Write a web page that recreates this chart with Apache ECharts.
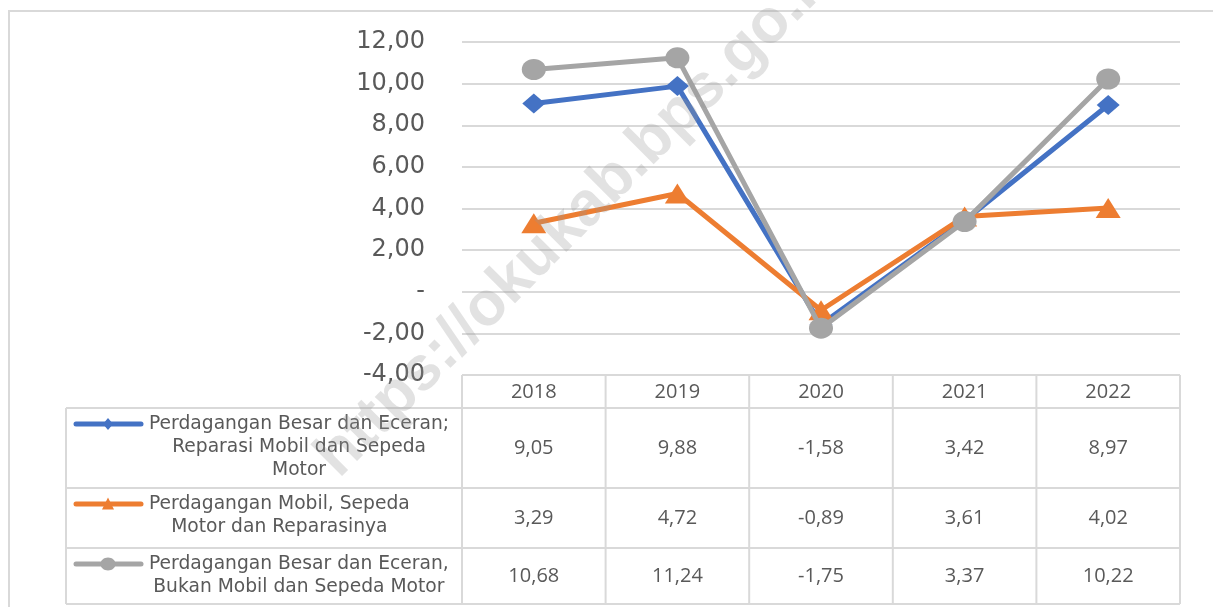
<!DOCTYPE html>
<html>
<head>
<meta charset="utf-8">
<script src="https://cdn.jsdelivr.net/npm/echarts@6/dist/echarts.min.js"></script>
<style>
  html, body { margin: 0; padding: 0; background: #fff; }
  #chart { width: 1213px; height: 607px; }
</style>
</head>
<body>
<div id="chart"></div>
<script>
// data
var years = ['2018', '2019', '2020', '2021', '2022'];
var besarEceran = [9.05, 9.88, -1.58, 3.42, 8.97];
var mobilMotor = [3.29, 4.72, -0.89, 3.61, 4.02];
var bukanMobil = [10.68, 11.24, -1.75, 3.37, 10.22];
var seriesNames = [
  'Perdagangan Besar dan Eceran; Reparasi Mobil dan Sepeda Motor',
  'Perdagangan Mobil, Sepeda Motor dan Reparasinya',
  'Perdagangan Besar dan Eceran, Bukan Mobil dan Sepeda Motor'
];
var legendLines = [
  ['Perdagangan Besar dan Eceran;', 'Reparasi Mobil dan Sepeda', 'Motor'],
  ['Perdagangan Mobil, Sepeda', 'Motor dan Reparasinya'],
  ['Perdagangan Besar dan Eceran,', 'Bukan Mobil dan Sepeda Motor']
];
var yMin = -4, yMax = 12, yStep = 2;

var colors = ['#4472C4', '#ED7D31', '#A5A5A5'];
var symbols = ['diamond', 'triangle', 'circle'];
var symbolSizes = [[23, 20], [25, 20], [24, 21]];
var keySizes = [[10, 12], [12, 11], [15, 13]];
var allData = [besarEceran, mobilMotor, bukanMobil];

var gridColor = '#D9D9D9';
var textColor = '#595959';
var wideFont = '"DejaVu Sans", sans-serif';
var numFont = '"Open Sans", "Noto Sans", sans-serif';

function fmt(v) {
  return v.toFixed(2).replace('.', ',');
}

var chart = echarts.init(document.getElementById('chart'));

chart.setOption({
  animation: false,
  color: colors,
  grid: { left: 462, right: 33, top: 42, height: 333 },
  xAxis: {
    type: 'category',
    data: years,
    boundaryGap: true,
    axisLine: { show: false },
    axisTick: { show: false },
    axisLabel: { show: false }
  },
  yAxis: {
    type: 'value',
    min: yMin,
    max: yMax,
    interval: yStep,
    axisLine: { show: false },
    axisTick: { show: false },
    axisLabel: {
      margin: 37,
      fontSize: 24,
      fontFamily: wideFont,
      color: textColor,
      formatter: function (v) { return v === 0 ? '-' : fmt(v); }
    },
    splitLine: { lineStyle: { color: gridColor, width: 2 } }
  },
  series: allData.map(function (d, i) {
    return {
      name: seriesNames[i],
      type: 'line',
      data: d,
      symbol: symbols[i],
      symbolSize: symbolSizes[i],
      lineStyle: { width: 5, color: colors[i] },
      itemStyle: { color: colors[i] },
      z: 2 + i
    };
  })
});

// data table under the plot, columns taken from the x axis
var ctx = document.createElement('canvas').getContext('2d');
function textWidth(s, f) { ctx.font = f; return ctx.measureText(s).width; }

var x0 = chart.convertToPixel({ xAxisIndex: 0 }, 0);
var x1 = chart.convertToPixel({ xAxisIndex: 0 }, 1);
var band = x1 - x0;
var plotLeft = x0 - band / 2;
var plotRight = plotLeft + band * years.length;
var tableTop = chart.convertToPixel({ yAxisIndex: 0 }, yMin);
var headerH = 33;
var rowH = [80, 60, 56];
var tableLeft = 66;

var g = [];
function line(xa, ya, xb, yb) {
  g.push({ type: 'line', shape: { x1: xa, y1: ya, x2: xb, y2: yb },
    style: { stroke: gridColor, lineWidth: 2 }, silent: true, z: 1 });
}

// chart area border
g.push({ type: 'rect', shape: { x: 9, y: 11, width: 1230, height: 620 },
  style: { fill: 'none', stroke: gridColor, lineWidth: 2 }, silent: true, z: 0 });

line(plotLeft, tableTop, plotRight, tableTop);
var rowTops = [tableTop + headerH];
rowH.forEach(function (h, i) { rowTops.push(rowTops[i] + h); });
rowTops.forEach(function (y) { line(tableLeft, y, plotRight, y); });
line(tableLeft, rowTops[0], tableLeft, rowTops[rowTops.length - 1]);
for (var c = 0; c <= years.length; c++) {
  var cx = plotLeft + band * c;
  line(cx, tableTop, cx, rowTops[rowTops.length - 1]);
}
years.forEach(function (y, i) {
  g.push({ type: 'text', x: chart.convertToPixel({ xAxisIndex: 0 }, i), y: tableTop + headerH / 2 + 1,
    style: { text: y, fill: textColor, font: '20px ' + numFont, align: 'center', verticalAlign: 'middle' }, z: 5 });
});

var labelFont = '18.7px ' + wideFont;
allData.forEach(function (d, i) {
  var top = rowTops[i], h = rowH[i];
  d.forEach(function (v, j) {
    g.push({ type: 'text', x: chart.convertToPixel({ xAxisIndex: 0 }, j), y: top + h / 2,
      style: { text: fmt(v), fill: textColor, font: '20px ' + numFont, align: 'center', verticalAlign: 'middle' }, z: 5 });
  });
  // legend key: short line with the series marker
  var ky = top + 16;
  var kx = 108;
  var ks = keySizes[i];
  g.push({ type: 'line', shape: { x1: 76, y1: ky, x2: 141, y2: ky },
    style: { stroke: colors[i], lineWidth: 5, lineCap: 'round' }, z: 5 });
  if (symbols[i] === 'circle') {
    g.push({ type: 'ellipse', shape: { cx: kx, cy: ky, rx: ks[0] / 2, ry: ks[1] / 2 }, style: { fill: colors[i] }, z: 6 });
  } else if (symbols[i] === 'diamond') {
    g.push({ type: 'polygon', shape: { points: [[kx, ky - ks[1] / 2], [kx + ks[0] / 2, ky], [kx, ky + ks[1] / 2], [kx - ks[0] / 2, ky]] },
      style: { fill: colors[i] }, z: 6 });
  } else {
    g.push({ type: 'polygon', shape: { points: [[kx, ky - ks[1] / 2 - 1], [kx + ks[0] / 2, ky + ks[1] / 2], [kx - ks[0] / 2, ky + ks[1] / 2]] },
      style: { fill: colors[i] }, z: 6 });
  }
  // series name, each line centred inside a block that starts at x=149
  var lines = legendLines[i];
  var w = Math.max.apply(null, lines.map(function (s) { return textWidth(s, labelFont); }));
  lines.forEach(function (s, k) {
    g.push({ type: 'text', x: 149 + w / 2, y: ky + k * 23,
      style: { text: s, fill: textColor, font: labelFont, align: 'center', verticalAlign: 'middle' }, z: 5 });
  });
});

// watermark
g.push({ type: 'text', x: 327, y: 467, rotation: 45 * Math.PI / 180,
  style: { text: 'https://okukab.bps.go.id', fill: 'rgba(150,150,150,0.28)',
    font: 'bold 62px "Liberation Sans", Arial, sans-serif', align: 'left', verticalAlign: 'middle' },
  silent: true, z: 100 });

chart.setOption({ graphic: g });
</script>
</body>
</html>
